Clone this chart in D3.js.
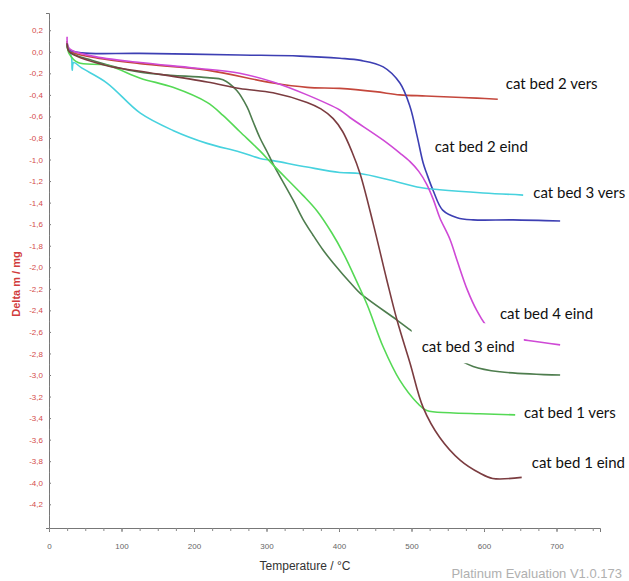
<!DOCTYPE html>
<html>
<head>
<meta charset="utf-8">
<script src="https://cdn.jsdelivr.net/npm/d3@7"></script>
<style>
  body { margin: 0; background: #fff; }
  svg { display: block; }
</style>
</head>
<body>
<script>
// temperature (°C) and delta m (mg) per run
const bed2VersT = [25, 28, 60, 126, 218, 309, 356, 401, 450, 484, 520, 553, 590, 619]
const bed2VersV = [0.10, 0.01, -0.05, -0.11, -0.17, -0.29, -0.33, -0.34, -0.37, -0.40, -0.41, -0.42, -0.43, -0.44]

const bed2EindT = [25, 28, 45, 125, 263, 346, 401, 430, 461, 484, 498, 508, 516, 521, 530, 543, 563, 585, 640, 705]
const bed2EindV = [0.08, 0.02, -0.01, -0.015, -0.03, -0.04, -0.06, -0.08, -0.14, -0.29, -0.51, -0.79, -1.03, -1.13, -1.29, -1.47, -1.54, -1.56, -1.56, -1.57]

const bed3VersT = [25, 31, 32, 34, 45, 80, 126, 171, 218, 263, 291, 309, 356, 401, 429, 470, 512, 539, 599, 654]
const bed3VersV = [0.05, -0.05, -0.17, -0.10, -0.15, -0.29, -0.57, -0.73, -0.85, -0.93, -0.99, -1.01, -1.07, -1.12, -1.13, -1.19, -1.26, -1.28, -1.31, -1.33]

const bed4EindT = [25, 28, 60, 126, 200, 263, 309, 356, 401, 415, 461, 484, 498, 510, 521, 530, 539, 553, 563, 577, 590, 606, 630, 661, 705]
const bed4EindV = [0.14, 0.03, -0.04, -0.10, -0.15, -0.20, -0.28, -0.40, -0.54, -0.61, -0.82, -0.94, -1.02, -1.11, -1.23, -1.37, -1.54, -1.74, -1.94, -2.21, -2.40, -2.56, -2.64, -2.68, -2.72]

const bed3EindT = [25, 28, 60, 126, 218, 240, 259, 273, 281, 291, 301, 309, 337, 350, 364, 378, 392, 419, 429, 480, 502, 545, 585, 622, 705]
const bed3EindV = [0.06, 0.0, -0.08, -0.19, -0.24, -0.26, -0.36, -0.51, -0.64, -0.80, -0.93, -1.04, -1.38, -1.55, -1.70, -1.84, -1.96, -2.17, -2.24, -2.49, -2.60, -2.78, -2.92, -2.97, -3.00]

const bed1VersT = [25, 28, 40, 80, 126, 171, 218, 240, 263, 291, 309, 350, 370, 390, 406, 425, 439, 461, 484, 508, 521, 553, 594, 643]
const bed1VersV = [0.06, -0.02, -0.10, -0.125, -0.245, -0.33, -0.47, -0.59, -0.74, -0.92, -1.05, -1.33, -1.48, -1.68, -1.87, -2.14, -2.35, -2.74, -3.05, -3.26, -3.33, -3.35, -3.36, -3.37]

const bed1EindT = [25, 28, 80, 126, 218, 263, 309, 356, 375, 392, 405, 418, 429, 447, 466, 480, 498, 516, 539, 567, 594, 612, 652]
const bed1EindV = [0.08, 0.0, -0.13, -0.18, -0.28, -0.34, -0.38, -0.47, -0.53, -0.62, -0.74, -0.93, -1.13, -1.59, -2.12, -2.49, -2.89, -3.30, -3.58, -3.79, -3.91, -3.96, -3.95]

const xTicks = [0, 100, 200, 300, 400, 500, 600, 700]
const yTicks = [0.2, 0.0, -0.2, -0.4, -0.6, -0.8, -1.0, -1.2, -1.4, -1.6, -1.8, -2.0, -2.2, -2.4, -2.6, -2.8, -3.0, -3.2, -3.4, -3.6, -3.8, -4.0, -4.2]

// label anchors in data units (left edge, vertical middle)
const series = [
  { name: 'cat bed 2 vers', t: bed2VersT, v: bed2VersV, color: '#c4473c', lx: 630, ly: -0.30 },
  { name: 'cat bed 2 eind', t: bed2EindT, v: bed2EindV, color: '#3d3fb3', lx: 532, ly: -0.88 },
  { name: 'cat bed 3 vers', t: bed3VersT, v: bed3VersV, color: '#47d2de', lx: 668, ly: -1.31 },
  { name: 'cat bed 4 eind', t: bed4EindT, v: bed4EindV, color: '#cf49d6', lx: 622, ly: -2.43 },
  { name: 'cat bed 3 eind', t: bed3EindT, v: bed3EindV, color: '#4e7d4e', lx: 514, ly: -2.74, pad: [10, 14, 9, 8] },
  { name: 'cat bed 1 vers', t: bed1VersT, v: bed1VersV, color: '#55d955', lx: 655, ly: -3.35 },
  { name: 'cat bed 1 eind', t: bed1EindT, v: bed1EindV, color: '#7b3c40', lx: 666, ly: -3.81 }
]

const width = 629
const height = 581

const svg = d3.select('body').append('svg')
  .attr('width', width)
  .attr('height', height)

const x = d3.scaleLinear().domain([0, 760]).range([49, 600])
const y = d3.scaleLinear().domain([-4.42, 0.36]).range([528, 13])

const fmt = v => d3.format('.1f')(v).replace('.', ',').replace('−', '-')

// y axis
const yAxis = svg.append('g')
  .attr('transform', `translate(${x(0)},0)`)
  .call(d3.axisLeft(y).tickValues(yTicks).tickSize(3).tickFormat(fmt))
yAxis.select('.domain').attr('stroke', '#777')
yAxis.selectAll('.tick line').attr('stroke', '#777').attr('x2', 2)
yAxis.selectAll('.tick text')
  .attr('fill', '#d44a4a')
  .style('font', '8px "Liberation Sans Narrow", "Liberation Sans", sans-serif')

svg.append('g')
  .attr('transform', `translate(${x(0)},0)`)
  .call(d3.axisLeft(y).tickValues(d3.range(-4.4, 0.35, 0.1)).tickSize(2).tickFormat(''))
  .call(g => g.select('.domain').remove())
  .selectAll('.tick line').attr('stroke', '#888').attr('x2', 1)

// x axis
const xAxis = svg.append('g')
  .attr('transform', `translate(0,${y(-4.42)})`)
  .call(d3.axisBottom(x).tickValues(xTicks).tickSize(4).tickPadding(11))
xAxis.select('.domain').attr('stroke', '#777')
xAxis.selectAll('.tick line').attr('stroke', '#777')
xAxis.selectAll('.tick text')
  .attr('fill', '#666')
  .style('font', '8px "Liberation Sans Narrow", "Liberation Sans", sans-serif')

svg.append('g')
  .attr('transform', `translate(0,${y(-4.42)})`)
  .call(d3.axisBottom(x).tickValues(d3.range(0, 760, 25)).tickSize(3).tickFormat(''))
  .call(g => g.select('.domain').remove())
  .selectAll('.tick line').attr('stroke', '#888')

// axis titles
svg.append('text')
  .attr('transform', 'translate(20,284) rotate(-90)')
  .attr('text-anchor', 'middle')
  .attr('fill', '#d13c3c')
  .style('font', 'bold 11px "Liberation Sans", sans-serif')
  .text('Delta m / mg')

svg.append('text')
  .attr('x', 305)
  .attr('y', 570)
  .attr('text-anchor', 'middle')
  .attr('fill', '#333')
  .style('font', '12px "Liberation Sans Narrow", "Liberation Sans", sans-serif')
  .text('Temperature / °C')

svg.append('text')
  .attr('x', 622)
  .attr('y', 578)
  .attr('text-anchor', 'end')
  .attr('fill', '#b0b0b0')
  .style('font', '13px "Liberation Sans", sans-serif')
  .text('Platinum Evaluation V1.0.173')

// curves
const line = d3.line()
  .x(d => x(d[0]))
  .y(d => y(d[1]))
  .curve(d3.curveCatmullRom.alpha(0.5))

svg.append('g').selectAll('path')
  .data(series)
  .enter().append('path')
  .attr('d', s => line(d3.zip(s.t, s.v)))
  .attr('fill', 'none')
  .attr('stroke', s => s.color)
  .attr('stroke-width', 1.6)
  .attr('stroke-linejoin', 'round')

// labels on white patches
const labels = svg.append('g').selectAll('g')
  .data(series)
  .enter().append('g')

labels.append('text')
  .attr('x', s => x(s.lx))
  .attr('y', s => y(s.ly))
  .attr('dy', '0.35em')
  .attr('fill', '#111')
  .style('font', '15px Lato, sans-serif')
  .text(s => s.name)

labels.each(function (s) {
  const g = d3.select(this)
  const box = g.select('text').node().getBBox()
  const p = s.pad || [2, 2, 2, 2]
  g.insert('rect', 'text')
    .attr('x', box.x - p[0])
    .attr('y', box.y - p[1])
    .attr('width', box.width + p[0] + p[2])
    .attr('height', box.height + p[1] + p[3])
    .attr('fill', '#fff')
})
</script>
</body>
</html>
